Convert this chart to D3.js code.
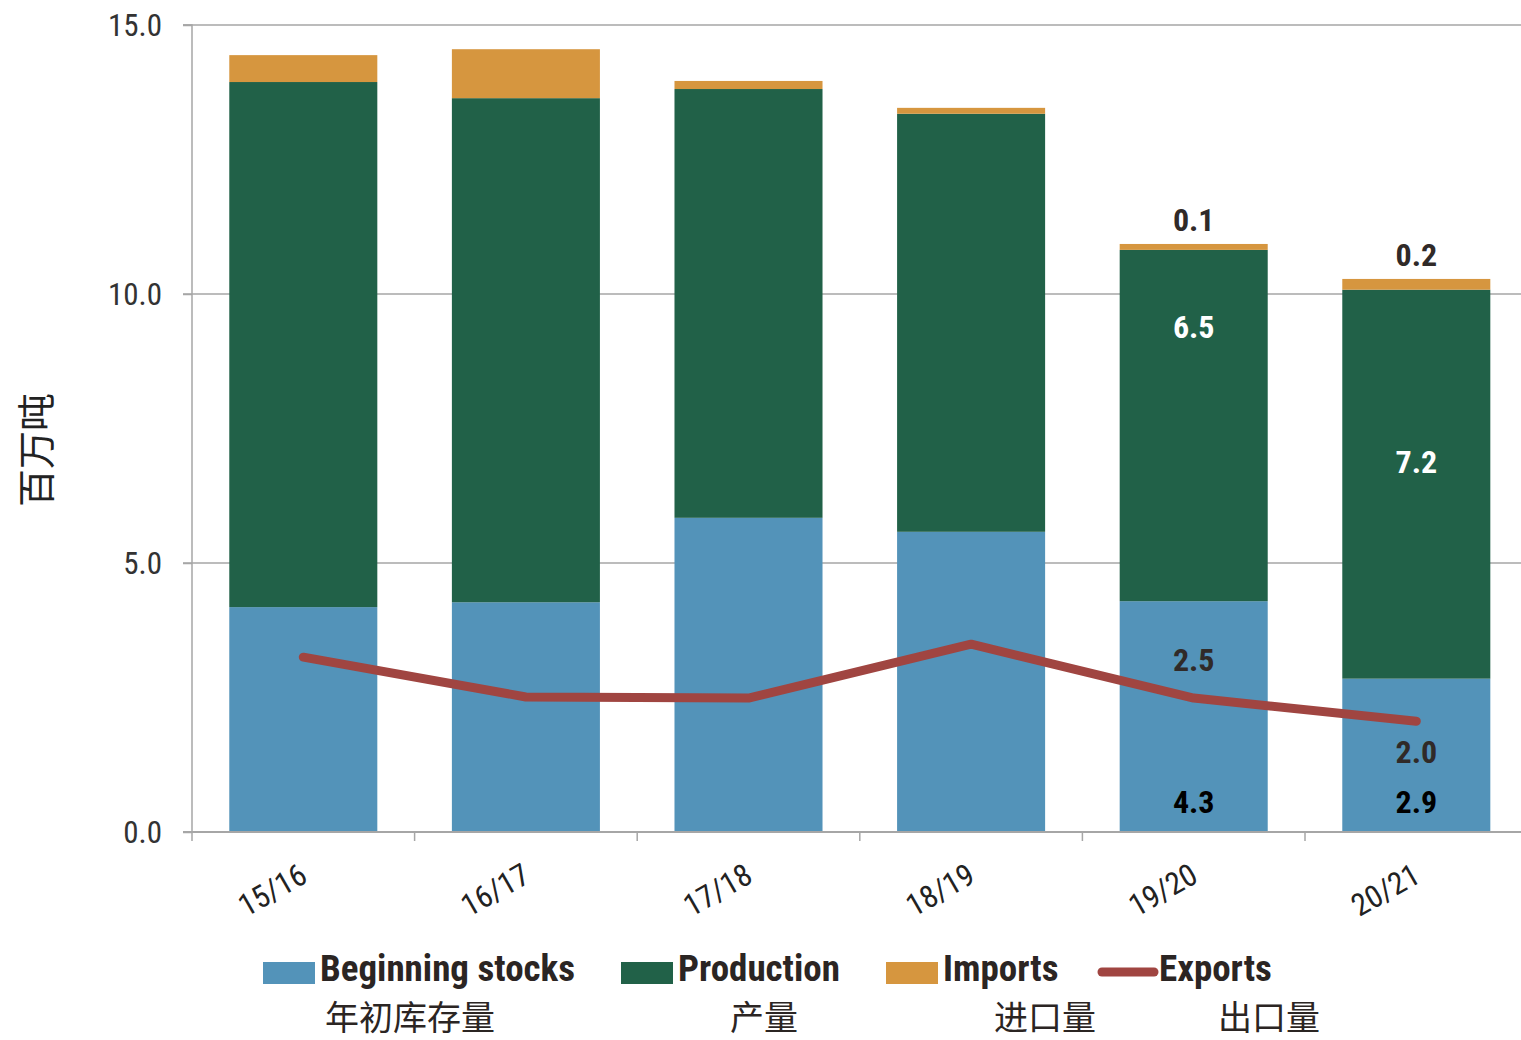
<!DOCTYPE html>
<html><head><meta charset="utf-8">
<script src="https://cdn.jsdelivr.net/npm/d3@7"></script>
<style>
body{margin:0;background:#fff;}
svg text{font-family:"Roboto Condensed","Liberation Sans Narrow","DejaVu Sans Condensed",sans-serif;}
.cjk{font-family:"Noto Sans CJK SC",sans-serif !important;}
</style></head>
<body>
<svg id="c" width="1521" height="1040"></svg>
<script>
const years = ["15/16","16/17","17/18","18/19","19/20","20/21"];
const beginningStocks = [4.18, 4.27, 5.84, 5.58, 4.29, 2.85];
const production = [9.76, 9.37, 7.97, 7.77, 6.53, 7.23];
const imports = [0.50, 0.91, 0.15, 0.11, 0.11, 0.20];
const exportsVals = [3.25, 2.51, 2.49, 3.49, 2.49, 2.06];
const bsLabels = ["","","","","4.3","2.9"];
const prodLabels = ["","","","","6.5","7.2"];
const impLabels = ["","","","","0.1","0.2"];
const expLabels = ["","","","","2.5","2.0"];
const yTicks = [0,5,10,15];
const legendNames = ["Beginning stocks","Production","Imports","Exports"];
const legendCN = ["年初库存量","产量","进口量","出口量"];

const colors = {bs:"#5393b9", prod:"#216148", imp:"#d6963f", exp:"#a04541"};
const svg = d3.select("#c");
const x0 = 192, x1 = 1527.6, yTop = 25, yBot = 832;
const x = d3.scaleBand().domain(years).range([x0,x1]).paddingInner(0.335).paddingOuter(0.1675);
const xb = d3.scaleBand().domain(years).range([x0,x1]);
const y = d3.scaleLinear().domain([0,15]).range([yBot,yTop]);

// gridlines
svg.append("g").selectAll("line").data(yTicks.filter(d=>d>0)).join("line")
  .attr("x1",183).attr("x2",1521).attr("y1",d=>y(d)).attr("y2",d=>y(d))
  .attr("stroke","#a6a6a6").attr("stroke-width",1.5);

// y axis
const ya = svg.append("g").attr("transform",`translate(${x0},0)`)
  .call(d3.axisLeft(y).tickValues(yTicks).tickFormat(d3.format(".1f")).tickSize(9).tickPadding(21));
ya.select(".domain").attr("stroke","#a6a6a6").attr("stroke-width",1.5).attr("d",`M-9,${yTop}H0V${yBot}H-9`);
ya.selectAll(".tick line").attr("stroke","#a6a6a6").attr("stroke-width",1.5);
ya.selectAll(".tick text").attr("font-size",31).attr("fill","#333").attr("dy","0.35em")
  .style("font-family",'"Roboto Condensed","Liberation Sans Narrow","DejaVu Sans Condensed",sans-serif');

// stacked bars
const stack = years.map((yr,i)=>({yr, segs:[
  {k:"bs",y0:0,y1:beginningStocks[i]},
  {k:"prod",y0:beginningStocks[i],y1:beginningStocks[i]+production[i]},
  {k:"imp",y0:beginningStocks[i]+production[i],y1:beginningStocks[i]+production[i]+imports[i]}
]}));
const g = svg.append("g");
stack.forEach(s=>{
  g.selectAll(null).data(s.segs).join("rect")
   .attr("x",x(s.yr)).attr("width",x.bandwidth())
   .attr("y",d=>y(d.y1)).attr("height",d=>y(d.y0)-y(d.y1))
   .attr("fill",d=>colors[d.k]);
});

// x axis
const xa = svg.append("g").attr("transform",`translate(0,${yBot})`);
xa.append("line").attr("x1",183).attr("x2",1521).attr("y1",0).attr("y2",0).attr("stroke","#a6a6a6").attr("stroke-width",2);
xa.selectAll(".tk").data(years).join("line").attr("class","tk")
  .attr("x1",d=>xb(d)).attr("x2",d=>xb(d)).attr("y1",0).attr("y2",9)
  .attr("stroke","#a6a6a6").attr("stroke-width",1.5);
xa.selectAll(".lbl").data(years).join("text").attr("class","lbl")
  .attr("transform",d=>`translate(${xb(d)+xb.bandwidth()/2+6},${49}) rotate(-30)`)
  .attr("text-anchor","end").attr("font-size",31).attr("fill","#222").text(d=>d);

// exports line
const line = d3.line().x((d,i)=>x(years[i])+x.bandwidth()/2).y(d=>y(d));
svg.append("path").datum(exportsVals).attr("d",line)
  .attr("fill","none").attr("stroke",colors.exp).attr("stroke-width",9)
  .attr("stroke-linecap","round").attr("stroke-linejoin","round");

// labels
const cx = i=>x(years[i])+x.bandwidth()/2;
const lbl = (txt,xx,yy,fill)=>svg.append("text").attr("x",xx).attr("y",yy).attr("text-anchor","middle")
  .attr("dy","0.35em").attr("font-size",32).attr("font-weight","bold").attr("fill",fill).text(txt);
const prodOffsets = [0,0,0,0,-99,-22];
const expOffsets = [0,0,0,0,-38,31];
years.forEach((yr,i)=>{
  if(bsLabels[i]) lbl(bsLabels[i], cx(i), y(0)-30, "#000");
  if(prodLabels[i]) lbl(prodLabels[i], cx(i), (y(beginningStocks[i])+y(beginningStocks[i]+production[i]))/2+prodOffsets[i], "#fff");
  const top = beginningStocks[i]+production[i]+imports[i];
  if(impLabels[i]) lbl(impLabels[i], cx(i), y(top)-24, "#302a28");
  if(expLabels[i]) lbl(expLabels[i], cx(i), y(exportsVals[i])+expOffsets[i], "#302a28");
});

// y title
svg.append("text").attr("class","cjk").attr("transform","translate(50,450) rotate(-90)")
  .attr("text-anchor","middle").attr("font-size",38).attr("fill","#222").text("百万吨");

// legend
const legX = [263,621,886,1098];
const leg = svg.append("g");
legendNames.forEach((n,i)=>{
  if(i<3){
    leg.append("rect").attr("x",legX[i]).attr("y",962).attr("width",52).attr("height",22)
      .attr("fill",[colors.bs,colors.prod,colors.imp][i]);
  } else {
    leg.append("line").attr("x1",legX[i]+4).attr("x2",legX[i]+56).attr("y1",972).attr("y2",972)
      .attr("stroke",colors.exp).attr("stroke-width",9).attr("stroke-linecap","round");
  }
  leg.append("text").attr("x",legX[i]+(i<3?57:61)).attr("y",981).attr("font-size",37)
    .attr("font-weight","bold").attr("fill","#2b2523").text(n);
});
const cnX = [410,764,1045,1269];
legendCN.forEach((n,i)=>{
  leg.append("text").attr("class","cjk").attr("x",cnX[i]).attr("y",1030).attr("text-anchor","middle")
    .attr("font-size",34).attr("fill","#2b2523").text(n);
});
</script>
</body></html>
